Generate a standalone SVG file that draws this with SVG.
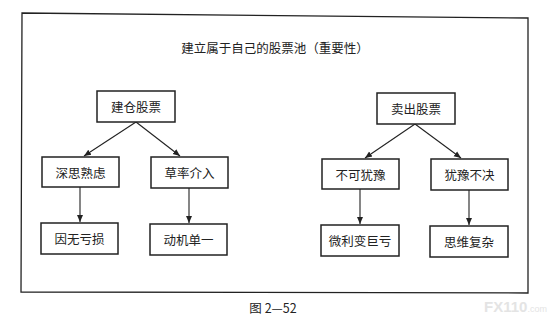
<svg xmlns="http://www.w3.org/2000/svg" width="551" height="327" viewBox="0 0 551 327">
<style>
.box{fill:#fff;stroke:#222;stroke-width:1.5}
.t{font-family:"Noto Sans CJK SC","Liberation Serif",serif;font-size:12.5px;fill:#222;text-anchor:middle;dominant-baseline:central}
.c{stroke:#222;stroke-width:1.1;fill:none;marker-end:url(#ah)}
</style>
<defs>
<marker id="ah" markerWidth="8" markerHeight="8" refX="7" refY="4" orient="auto" markerUnits="userSpaceOnUse">
<path d="M0,1 L7,4 L0,7 Z" fill="#222"/>
</marker>
</defs>
<rect width="551" height="327" fill="#fff"/>
<polygon id="frame" points="22,13 528,18 528,293 21,292" fill="none" stroke="#222" stroke-width="1.3"/>
<text id="title" class="t" x="275" y="47" font-size="12">建立属于自己的股票池（重要性）</text>
<g id="connectors">
<line class="c" x1="136" y1="122" x2="84" y2="156"/>
<line class="c" x1="136" y1="122" x2="180" y2="156"/>
<line class="c" x1="80" y1="187" x2="80" y2="222"/>
<line class="c" x1="189" y1="188" x2="189" y2="223"/>
<line class="c" x1="415" y1="124" x2="365" y2="158"/>
<line class="c" x1="415" y1="124" x2="461" y2="158"/>
<line class="c" x1="360" y1="189" x2="360" y2="224"/>
<line class="c" x1="469" y1="190" x2="469" y2="225"/>
</g>
<g id="n1"><rect class="box" x="97" y="91" width="78" height="31"/><text class="t" x="136" y="106.5">建仓股票</text></g>
<g id="n2"><rect class="box" x="42" y="157" width="77" height="30"/><text class="t" x="80.5" y="172">深思熟虑</text></g>
<g id="n3"><rect class="box" x="151" y="157" width="77" height="31"/><text class="t" x="189.5" y="172.5">草率介入</text></g>
<g id="n4"><rect class="box" x="41" y="223" width="77" height="31"/><text class="t" x="79.5" y="238.5">因无亏损</text></g>
<g id="n5"><rect class="box" x="150" y="224" width="77" height="31"/><text class="t" x="188.5" y="239.5">动机单一</text></g>
<g id="n6"><rect class="box" x="377" y="93" width="78" height="31"/><text class="t" x="416" y="108.5">卖出股票</text></g>
<g id="n7"><rect class="box" x="322" y="159" width="77" height="30"/><text class="t" x="360.5" y="174">不可犹豫</text></g>
<g id="n8"><rect class="box" x="431" y="159" width="77" height="31"/><text class="t" x="469.5" y="174.5">犹豫不决</text></g>
<g id="n9"><rect class="box" x="321" y="225" width="78" height="31"/><text class="t" x="360" y="240.5">微利变巨亏</text></g>
<g id="n10"><rect class="box" x="430" y="226" width="78" height="31"/><text class="t" x="469" y="241.5">思维复杂</text></g>
<text id="caption" class="t" x="273" y="307" font-size="11">图 2—52</text>
<text id="wm" x="484" y="312" font-family="Liberation Sans,sans-serif" font-weight="bold" font-size="15" fill="#e4e4e4">FX110<tspan font-size="9" font-weight="normal">.com</tspan></text>
</svg>
